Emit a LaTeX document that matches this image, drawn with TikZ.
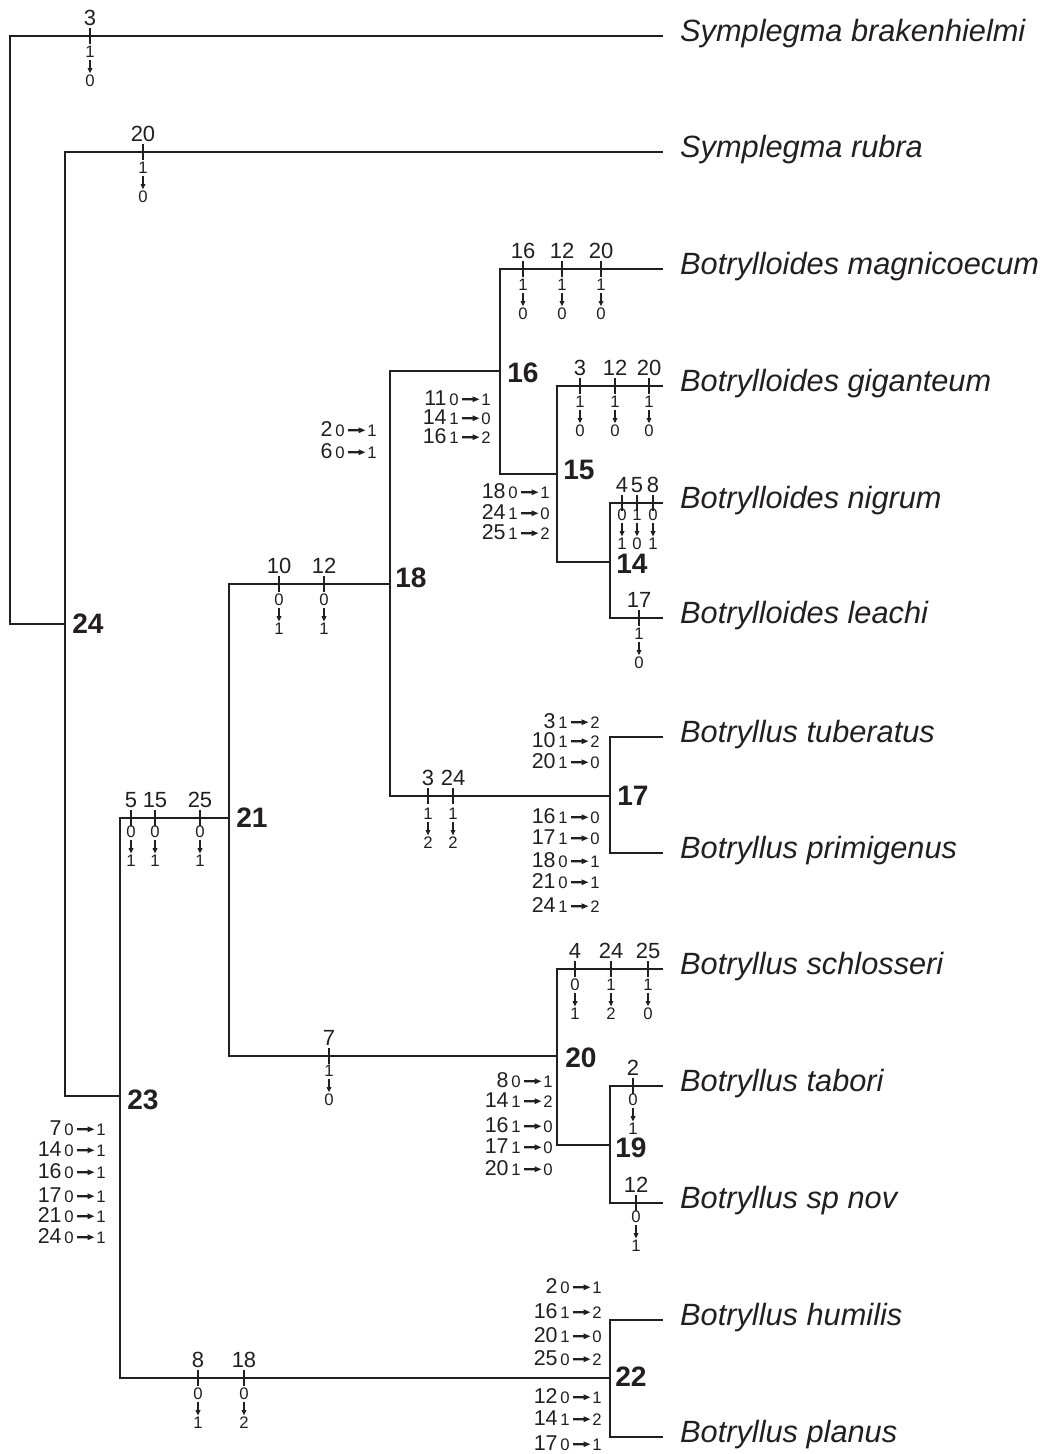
\documentclass[tikz,border=0pt]{standalone}
\usepackage{fontspec}
\setmainfont{Liberation Sans}
\usetikzlibrary{arrows.meta}
\definecolor{ink}{RGB}{35,31,32}

% mark on a branch: [state offset] x, y, character, from, to
\newcommand{\brmark}[6][16]{%
  \draw[tk] (#2,#3-8) -- (#2,#3+8);
  \node[chr] (c#2-#3) at (#2,#3-11) {#4};
  \node[st] (a#2-#3) at (#2,#3+#1) {#5};
  \node[st] (b#2-#3) at (#2,#3+#1+29) {#6};
  \draw[varr] (a#2-#3) -- (b#2-#3);
}
% listed change: arrow x, baseline y, character, from, to
\newcommand{\chrow}[5]{%
  \node[lchr] (r#1-#2) at (#1-15,#2) {#3};
  \node[st, anchor=base] (f#1-#2) at (#1-8,#2) {#4};
  \node[st, anchor=base] (t#1-#2) at (#1+24,#2) {#5};
  \draw[harr] (f#1-#2) -- (t#1-#2);
}

\begin{document}
\begin{tikzpicture}[x=0.02cm, y=-0.02cm, ink,
  br/.style={line width=1.1pt},
  tk/.style={line width=1.5pt},
  chr/.style={font=\fontsize{12.5}{14}\selectfont, anchor=base, inner sep=0pt},
  lchr/.style={font=\fontsize{12.2}{13}\selectfont, anchor=base east, inner sep=0pt},
  st/.style={font=\fontsize{9.5}{10}\selectfont, inner sep=0.8pt},
  varr/.style={line width=0.9pt, -{Triangle[length=3pt,width=2.6pt]}},
  harr/.style={line width=1.3pt, -{Triangle[length=4pt,width=3pt]}, shorten <=1pt},
  taxon/.style={font=\fontsize{17.5}{20}\selectfont\itshape, anchor=west,
    inner xsep=9.6pt, inner ysep=0pt, text height=0.68em, text depth=0pt},
  nlab/.style={font=\fontsize{16}{18}\selectfont\bfseries, anchor=west, inner sep=0pt}]
\useasboundingbox (0,0) rectangle (1047,1454);

% taxa
\node[taxon] (brak) at (663,36) {Symplegma brakenhielmi};
\node[taxon] (rubr) at (663,152) {Symplegma rubra};
\node[taxon] (magn) at (663,269) {Botrylloides magnicoecum};
\node[taxon] (giga) at (663,386) {Botrylloides giganteum};
\node[taxon] (nigr) at (663,503) {Botrylloides nigrum};
\node[taxon] (leac) at (663,618) {Botrylloides leachi};
\node[taxon] (tube) at (663,737) {Botryllus tuberatus};
\node[taxon] (prim) at (663,853) {Botryllus primigenus};
\node[taxon] (schl) at (663,969) {Botryllus schlosseri};
\node[taxon] (tabo) at (663,1086) {Botryllus tabori};
\node[taxon] (spno) at (663,1203) {Botryllus sp nov};
\node[taxon] (humi) at (663,1320) {Botryllus humilis};
\node[taxon] (plan) at (663,1437) {Botryllus planus};

% internal nodes
\coordinate (root) at (10,330);
\coordinate (n24) at (65,624);
\coordinate (n23) at (120,1096);
\coordinate (n21) at (229,818);
\coordinate (n18) at (390,584);
\coordinate (n16) at (500,371);
\coordinate (n15) at (557,474);
\coordinate (n14) at (610,562);
\coordinate (n17) at (610,796);
\coordinate (n20) at (557,1056);
\coordinate (n19) at (610,1145);
\coordinate (n22) at (610,1378);

\node[nlab] (l24) at (72,624) {24};
\node[nlab] (l23) at (127,1100) {23};
\node[nlab] (l21) at (236,818) {21};
\node[nlab] (l18) at (395,578) {18};
\node[nlab] (l16) at (507,373) {16};
\node[nlab] (l15) at (563,470) {15};
\node[nlab] (l14) at (616,564) {14};
\node[nlab] (l17) at (617,796) {17};
\node[nlab] (l20) at (565,1058) {20};
\node[nlab] (l19) at (615,1148) {19};
\node[nlab] (l22) at (615,1377) {22};

% branches
\draw[br] (root) |- (brak.west);
\draw[br] (root) |- (n24);
\draw[br] (n24) |- (rubr.west);
\draw[br] (n24) |- (n23);
\draw[br] (n23) |- (n21);
\draw[br] (n23) |- (n22);
\draw[br] (n21) |- (n18);
\draw[br] (n21) |- (n20);
\draw[br] (n18) |- (n16);
\draw[br] (n18) |- (n17);
\draw[br] (n16) |- (magn.west);
\draw[br] (n16) |- (n15);
\draw[br] (n15) |- (giga.west);
\draw[br] (n15) |- (n14);
\draw[br] (n14) |- (nigr.west);
\draw[br] (n14) |- (leac.west);
\draw[br] (n17) |- (tube.west);
\draw[br] (n17) |- (prim.west);
\draw[br] (n20) |- (schl.west);
\draw[br] (n20) |- (n19);
\draw[br] (n19) |- (tabo.west);
\draw[br] (n19) |- (spno.west);
\draw[br] (n22) |- (humi.west);
\draw[br] (n22) |- (plan.west);

% changes on branches
\brmark{90}{36}{3}{1}{0}
\brmark{143}{152}{20}{1}{0}
\brmark{523}{269}{16}{1}{0}
\brmark{562}{269}{12}{1}{0}
\brmark{601}{269}{20}{1}{0}
\brmark{580}{386}{3}{1}{0}
\brmark{615}{386}{12}{1}{0}
\brmark{649}{386}{20}{1}{0}
\brmark[12]{622}{503}{4}{0}{1}
\brmark[12]{637}{503}{5}{1}{0}
\brmark[12]{653}{503}{8}{0}{1}
\brmark{639}{618}{17}{1}{0}
\brmark{279}{584}{10}{0}{1}
\brmark{324}{584}{12}{0}{1}
\brmark[18]{428}{796}{3}{1}{2}
\brmark[18]{453}{796}{24}{1}{2}
\brmark[14]{131}{818}{5}{0}{1}
\brmark[14]{155}{818}{15}{0}{1}
\brmark[14]{200}{818}{25}{0}{1}
\brmark[15]{329}{1056}{7}{1}{0}
\brmark{575}{969}{4}{0}{1}
\brmark{611}{969}{24}{1}{2}
\brmark{648}{969}{25}{1}{0}
\brmark[14]{633}{1086}{2}{0}{1}
\brmark[14]{636}{1203}{12}{0}{1}
\brmark{198}{1378}{8}{0}{1}
\brmark{244}{1378}{18}{0}{2}

% listed changes
\chrow{348}{436}{2}{0}{1}
\chrow{348}{458}{6}{0}{1}
\chrow{462}{405}{11}{0}{1}
\chrow{462}{424}{14}{1}{0}
\chrow{462}{443}{16}{1}{2}
\chrow{521}{498}{18}{0}{1}
\chrow{521}{519}{24}{1}{0}
\chrow{521}{539}{25}{1}{2}
\chrow{571}{728}{3}{1}{2}
\chrow{571}{747}{10}{1}{2}
\chrow{571}{768}{20}{1}{0}
\chrow{571}{823}{16}{1}{0}
\chrow{571}{844}{17}{1}{0}
\chrow{571}{867}{18}{0}{1}
\chrow{571}{888}{21}{0}{1}
\chrow{571}{912}{24}{1}{2}
\chrow{524}{1087}{8}{0}{1}
\chrow{524}{1107}{14}{1}{2}
\chrow{524}{1132}{16}{1}{0}
\chrow{524}{1153}{17}{1}{0}
\chrow{524}{1175}{20}{1}{0}
\chrow{77}{1135}{7}{0}{1}
\chrow{77}{1156}{14}{0}{1}
\chrow{77}{1178}{16}{0}{1}
\chrow{77}{1202}{17}{0}{1}
\chrow{77}{1222}{21}{0}{1}
\chrow{77}{1243}{24}{0}{1}
\chrow{573}{1293}{2}{0}{1}
\chrow{573}{1318}{16}{1}{2}
\chrow{573}{1342}{20}{1}{0}
\chrow{573}{1365}{25}{0}{2}
\chrow{573}{1403}{12}{0}{1}
\chrow{573}{1425}{14}{1}{2}
\chrow{573}{1450}{17}{0}{1}
\end{tikzpicture}
\end{document}
